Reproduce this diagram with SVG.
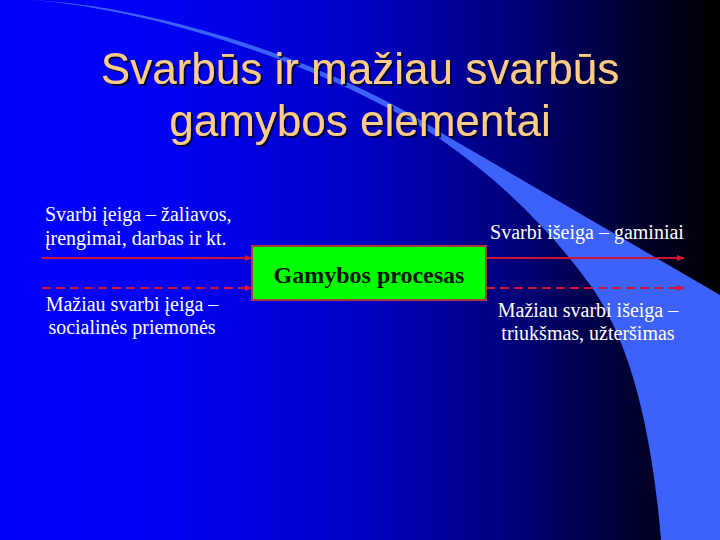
<svg xmlns="http://www.w3.org/2000/svg" width="720" height="540" viewBox="0 0 720 540">
<defs>
<linearGradient id="bg" x1="0" y1="0" x2="1" y2="0">
<stop offset="0" stop-color="#0000ff"/>
<stop offset="0.25" stop-color="#0000f2"/>
<stop offset="0.5" stop-color="#0000c4"/>
<stop offset="0.72" stop-color="#000078"/>
<stop offset="0.88" stop-color="#000030"/>
<stop offset="1" stop-color="#000000"/>
</linearGradient>
<filter id="shadow" x="-5%" y="-20%" width="110%" height="140%">
<feDropShadow dx="2" dy="2" stdDeviation="0.6" flood-color="#000033" flood-opacity="0.9"/>
</filter>
<marker id="ah" viewBox="0 0 10 10" refX="9" refY="5" markerWidth="4" markerHeight="4" orient="auto" markerUnits="strokeWidth">
<path d="M0,1 L10,5 L0,9 Z" fill="#e01030"/>
</marker>
<style>
.title{font-family:"Liberation Sans",Arial,sans-serif;font-size:44px;text-anchor:middle;fill:#ffcc88;filter:url(#shadow)}
.lbl{font-family:"Liberation Serif","Times New Roman",serif;font-size:20px;fill:#ffffff}
.mid{text-anchor:middle}
.conn{stroke:#cc1535;stroke-width:2;fill:none;marker-end:url(#ah)}
.dash{stroke-dasharray:9 5}
.box{fill:#00ff00;stroke:#a83a3a;stroke-width:2}
.boxtxt{font-family:"Liberation Serif","Times New Roman",serif;font-size:24px;font-weight:bold;fill:#0a140a;text-anchor:middle}
</style>
</defs>
<rect x="0" y="0" width="720" height="540" fill="url(#bg)"/>
<path d="M30,0 C150,5 330,60 445,135 L720,295 L720,540 L661,540 C652,430 630,338 588,282 C550,230 500,180 440,139 C330,66 150,8 30,0 Z" fill="#3c62fa"/>
<g id="title">
<text class="title" x="360" y="84">Svarbūs ir mažiau svarbūs</text>
<text class="title" x="360" y="136">gamybos elementai</text>
</g>
<g id="connectors">
<line class="conn" x1="42" y1="258" x2="252" y2="258"/>
<line class="conn dash" x1="42" y1="288" x2="252" y2="288"/>
<line class="conn" x1="486" y1="258" x2="684" y2="258"/>
<line class="conn dash" x1="486" y1="288" x2="684" y2="288"/>
</g>
<g id="process">
<rect class="box" x="252" y="246" width="234" height="54"/>
<text class="boxtxt" x="369" y="283">Gamybos procesas</text>
</g>
<g id="input-main">
<text class="lbl" x="45" y="221">Svarbi įeiga – žaliavos,</text>
<text class="lbl" x="45" y="245">įrengimai, darbas ir kt.</text>
</g>
<g id="input-minor">
<text class="lbl mid" x="132" y="311">Mažiau svarbi įeiga –</text>
<text class="lbl mid" x="132" y="334">socialinės priemonės</text>
</g>
<g id="output-main">
<text class="lbl mid" x="587" y="239">Svarbi išeiga – gaminiai</text>
</g>
<g id="output-minor">
<text class="lbl mid" x="588" y="317">Mažiau svarbi išeiga –</text>
<text class="lbl mid" x="588" y="340">triukšmas, užteršimas</text>
</g>
</svg>
